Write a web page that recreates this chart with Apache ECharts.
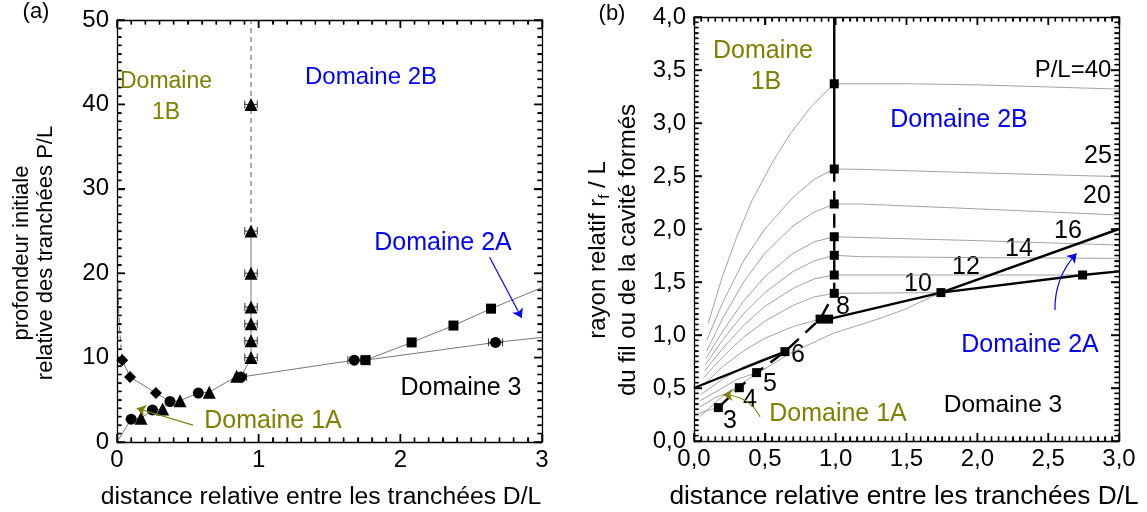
<!DOCTYPE html>
<html><head><meta charset="utf-8">
<script src="https://cdn.jsdelivr.net/npm/echarts@6/dist/echarts.min.js"></script>
<style>html,body{margin:0;padding:0;background:#fff}#c{width:1147px;height:512px}</style>
</head><body><div id="c"></div>
<script>
// ---------- Panel (a) data ----------
const aCircles   = [[0.10,2.7],[0.25,3.8],[0.374,4.8],[0.574,5.8],[0.875,7.7],[1.675,9.7],[2.672,11.8]];
const aTriangles = [[0.169,2.8],[0.322,3.9],[0.445,4.9],[0.651,5.9],[0.845,7.8],[0.946,10],[0.946,12],[0.946,14],[0.946,16],[0.946,20],[0.946,25],[0.946,40]];
const aSquares   = [[1.755,9.7],[2.08,11.8],[2.375,13.8],[2.64,15.8]];
const aDiamonds  = [[0.037,9.7],[0.092,7.7],[0.275,5.8]];
const aLowerLine = [[0,0],[0.10,2.7],[0.169,2.8],[0.25,3.8],[0.322,3.9],[0.374,4.8],[0.445,4.9],[0.574,5.8],[0.651,5.9],[0.845,7.8],[0.875,7.7],[1.675,9.7],[1.755,9.7],[2.672,11.8],[3.0,12.4]];
const aUpperLine = [[1.755,9.7],[2.08,11.8],[2.375,13.8],[2.64,15.8],[3.0,18.3]];
const aDiamondLine = [[0.037,9.7],[0.092,7.7],[0.275,5.8],[0.374,4.8]];
const aDiamondDash = [[0.004,19],[0.012,15.5],[0.022,12.5],[0.037,9.7]];
const aVertSolid = [[0.875,7.7],[0.946,10],[0.946,25]];
const aVertDash  = [[0.946,25],[0.946,50]];
const aErrBars   = [[0.946,10,0.044],[0.946,12,0.044],[0.946,14,0.044],[0.946,16,0.044],[0.946,20,0.044],[0.946,25,0.044],[0.946,40,0.044],[0.875,7.7,0.04],[1.675,9.7,0.045],[2.672,11.8,0.05]];
const aArrow2A = [[2.63,21.9],[2.857,14.7]];
const aArrow1A = [[0.536,2.0],[0.139,4.0]];

// ---------- Panel (b) data ----------
const bSquares = [[0.99,3.37],[0.99,2.566],[0.99,2.236],[0.99,1.927],[0.99,1.752],[0.99,1.566],[0.99,1.393],
                  [0.89,1.15],[0.95,1.15],[0.642,0.843],[0.442,0.645],[0.32,0.503],[0.172,0.315],[1.743,1.40],[2.743,1.566]];
const bCurve40 = [[0.10,1.11],[0.2,1.55],[0.3,1.92],[0.41,2.27],[0.55,2.62],[0.68,2.90],[0.83,3.16],[0.99,3.37],[1.5,3.37],[2.0,3.36],[2.5,3.34],[3.0,3.32]];
const bCurve25 = [[0.09,0.95],[0.2,1.3],[0.35,1.7],[0.5,2.0],[0.7,2.3],[0.85,2.47],[0.99,2.566],[1.17,2.563],[2.0,2.53],[3.0,2.494]];
const bCurve20 = [[0.09,0.85],[0.2,1.15],[0.35,1.5],[0.5,1.77],[0.7,2.03],[0.85,2.16],[0.99,2.236],[1.17,2.236],[2.0,2.19],[3.0,2.132]];
const bCurve16 = [[0.085,0.78],[0.2,1.03],[0.35,1.32],[0.5,1.55],[0.7,1.77],[0.85,1.88],[0.99,1.927],[1.17,1.92],[2.0,1.89],[3.0,1.849]];
const bCurve14 = [[0.08,0.72],[0.2,0.95],[0.35,1.2],[0.5,1.4],[0.7,1.6],[0.85,1.7],[0.99,1.752],[1.17,1.739],[2.0,1.73],[3.0,1.723]];
const bCurve12 = [[0.075,0.66],[0.2,0.87],[0.35,1.09],[0.5,1.27],[0.7,1.44],[0.85,1.53],[0.99,1.566],[2.743,1.566]];
const bCurve10 = [[0.07,0.60],[0.2,0.79],[0.35,0.98],[0.5,1.13],[0.7,1.28],[0.85,1.36],[0.99,1.393],[1.743,1.40]];
const bCurve8  = [[0.06,0.52],[0.2,0.70],[0.35,0.85],[0.5,0.97],[0.7,1.08],[0.89,1.15]];
const bCurve6  = [[0.05,0.44],[0.2,0.58],[0.35,0.70],[0.5,0.78],[0.642,0.843]];
const bCurve5  = [[0.045,0.38],[0.2,0.50],[0.3,0.58],[0.442,0.645]];
const bCurve4  = [[0.04,0.32],[0.15,0.41],[0.25,0.46],[0.32,0.503]];
const bCurve3  = [[0.035,0.26],[0.1,0.29],[0.172,0.315]];
const bCurveLow = [[0.042,0.23],[0.2,0.42],[0.372,0.575],[0.678,0.827],[0.983,1.016],[1.313,1.157],[1.477,1.236],[1.743,1.40]];
const bDashed  = [[0.172,0.315],[0.32,0.503],[0.442,0.645],[0.642,0.843],[0.89,1.15],[0.99,1.393],[0.99,2.566]];
const bVertSolid = [[0.99,2.566],[0.99,4.0]];
const bLineA = [[0,0.5],[0.642,0.843]];
const bLineB = [[0.95,1.15],[1.743,1.40],[3.0,2.0]];
const bLineC = [[1.743,1.40],[2.743,1.566],[3.0,1.6]];
const bArrow2A = [[2.548,1.236],[2.70,1.77]];
const bArrow1A = [[0.466,0.229],[0.207,0.434]];

// axis ranges / tick spacing
const aXTicks = {min:0, max:3, interval:1, minor:10};
const aYTicks = {min:0, max:50, interval:10, minor:10};
const bXTicks = {min:0, max:3, interval:0.5, minor:10};
const bYTicks = {min:0, max:4, interval:0.5, minor:10};

const FONT = 'Liberation Sans, Arial, sans-serif';
const OLIVE = '#808000', BLUE = '#0000ff';

function axis(kind, grid, t, pos, showLabel, fmt){
  return {
    type:'value', gridIndex:grid, min:t.min, max:t.max, interval:t.interval, position:pos,
    axisLine:{show:true, onZero:false, lineStyle:{color:'#000', width:1.3}},
    axisTick:{show:true, inside:true, length:8, lineStyle:{color:'#000', width:1.4}},
    minorTick:{show:true, splitNumber:t.minor, length:4.5, lineStyle:{color:'#000', width:1.2}},
    splitLine:{show:false},
    axisLabel:{show:showLabel, color:'#000', fontSize:24, fontFamily:FONT, margin: kind==='x'?6:8,
      formatter: fmt || null, showMinLabel:true, showMaxLabel:true}
  };
}
const comma = v => v.toFixed(1).replace('.', ',');

// frame tick items: [x, y, dirX, dirY, length] — one item per tick, inside the frame on all four sides
function tickItems(tx, ty, majLen, minLen){
  const items = [];
  const nx = Math.round((tx.max - tx.min) / tx.interval * tx.minor);
  for (let i = 0; i <= nx; i++) {
    const v = +(tx.min + i * (tx.max - tx.min) / nx).toFixed(6);
    const L = (i % tx.minor === 0) ? majLen : minLen;
    items.push([v, ty.min, 0, -1, L]);
    items.push([v, ty.max, 0, 1, L]);
  }
  const ny = Math.round((ty.max - ty.min) / ty.interval * ty.minor);
  for (let i = 0; i <= ny; i++) {
    const v = +(ty.min + i * (ty.max - ty.min) / ny).toFixed(6);
    const L = (i % ty.minor === 0) ? majLen : minLen;
    items.push([tx.min, v, 1, 0, L]);
    items.push([tx.max, v, -1, 0, L]);
  }
  return items;
}
function tickRender(params, api){
  const p = api.coord([api.value(0), api.value(1)]);
  const dx = api.value(2), dy = api.value(3), L = api.value(4);
  const x = p[0], y = p[1];
  return {type:'line', shape:{x1:x, y1:y, x2:x + dx*L, y2:y + dy*L}, style:{stroke:'#000', lineWidth:1.5}};
}

function errBar(params, api){
  const x = api.value(0), y = api.value(1), d = api.value(2);
  const p1 = api.coord([x-d, y]), p2 = api.coord([x+d, y]);
  const h = 4, st = {stroke:'#000', lineWidth:0.8};
  return {type:'group', children:[
    {type:'line', shape:{x1:p1[0],y1:p1[1],x2:p2[0],y2:p2[1]}, style:st},
    {type:'line', shape:{x1:p1[0],y1:p1[1]-h,x2:p1[0],y2:p1[1]+h}, style:st},
    {type:'line', shape:{x1:p2[0],y1:p2[1]-h,x2:p2[0],y2:p2[1]+h}, style:st}
  ]};
}

function line(xi, yi, data, opts){
  return Object.assign({type:'line', xAxisIndex:xi, yAxisIndex:yi, data:data, showSymbol:false, symbol:'none',
    smooth:false, silent:true, animation:false,
    lineStyle:{color:'#666', width:0.9}}, opts||{});
}
function scatter(xi, yi, data, sym, size){
  return {type:'scatter', xAxisIndex:xi, yAxisIndex:yi, data:data, symbol:sym, symbolSize:size,
    itemStyle:{color:'#000', opacity:1}, z:5, animation:false, silent:true};
}
function arrow(xi, yi, data, color, curv){
  return {type:'lines', coordinateSystem:'cartesian2d', xAxisIndex:xi, yAxisIndex:yi, polyline:false,
    data:[{coords:data}], symbol:['none','arrow'], symbolSize:9, silent:true, animation:false, z:6,
    lineStyle:{color:color, width:1.2, opacity:1, curveness:curv||0}};
}
function txt(x, y, text, color, size, extra){
  return Object.assign({type:'text', x:x, y:y, style:{text:text, fill:color||'#000', font:(size||24)+'px '+FONT,
    textAlign:'center', textVerticalAlign:'middle'}}, extra||{});
}

const grey = {lineStyle:{color:'#8a8a8a', width:0.8}};
const bCurves = [bCurve40,bCurve25,bCurve20,bCurve16,bCurve14,bCurve12,bCurve10,bCurve8,bCurve6,bCurve5,bCurve4,bCurve3,bCurveLow];

const series = [
  // frame ticks
  {type:'custom', xAxisIndex:0, yAxisIndex:0, renderItem:tickRender, data:tickItems(aXTicks,aYTicks,8,4.5), encode:{x:0,y:1}, z:8, silent:true, animation:false, clip:false},
  {type:'custom', xAxisIndex:2, yAxisIndex:2, renderItem:tickRender, data:tickItems(bXTicks,bYTicks,8,4.5), encode:{x:0,y:1}, z:8, silent:true, animation:false, clip:false},
  // panel a
  line(0,0,aLowerLine),
  line(0,0,aUpperLine),
  line(0,0,aDiamondLine),
  line(0,0,aDiamondDash,{lineStyle:{color:'#444', width:0.9, type:[5,4]}}),
  line(0,0,aVertSolid),
  line(0,0,aVertDash,{lineStyle:{color:'#444', width:0.9, type:[5,4]}}),
  {type:'custom', xAxisIndex:0, yAxisIndex:0, renderItem:errBar, data:aErrBars, encode:{x:0,y:1}, z:4, silent:true, animation:false},
  scatter(0,0,aCircles,'circle',11),
  scatter(0,0,aTriangles,'triangle',13),
  scatter(0,0,aSquares,'rect',10),
  scatter(0,0,aDiamonds,'diamond',12),
  arrow(0,0,aArrow2A,BLUE,0),
  arrow(0,0,aArrow1A,OLIVE,0),
  // panel b
  ...bCurves.map(c => line(2,2,c,grey)),
  line(2,2,bDashed,{lineStyle:{color:'#000', width:2.4, type:[14,9]}}),
  line(2,2,bVertSolid,{lineStyle:{color:'#000', width:2.4}}),
  line(2,2,bLineA,{lineStyle:{color:'#000', width:2.4}}),
  line(2,2,bLineB,{lineStyle:{color:'#000', width:2.4}}),
  line(2,2,bLineC,{lineStyle:{color:'#000', width:2.4}}),
  scatter(2,2,bSquares,'rect',9),
  arrow(2,2,bArrow2A,BLUE,0.2),
  arrow(2,2,bArrow1A,OLIVE,-0.3)
];

const labels = [
  txt(36,12,'(a)','#000',22),
  txt(612,14,'(b)','#000',22),
  txt(321,497,'distance relative entre les tranchées D/L','#000',24.7),
  txt(904,497,'distance relative entre les tranchées D/L','#000',26.3),
  {type:'text', x:34, y:253, rotation:Math.PI/2, style:{text:'profondeur initiale\nrelative des tranchées P/L', fill:'#000', font:'22px '+FONT, textAlign:'center', textVerticalAlign:'middle', lineHeight:24}},
  {type:'text', x:598, y:250, rotation:Math.PI/2, style:{text:'rayon relatif r{s|f} / L', fill:'#000', font:'24px '+FONT, textAlign:'center', textVerticalAlign:'middle', rich:{s:{fontSize:15, fontFamily:FONT, verticalAlign:'bottom', padding:[14,0,0,0]}}}},
  txt(628,250,'du fil ou de la cavité formés','#000',24,{rotation:Math.PI/2}),
  // panel a labels
  txt(166,82,'Domaine',OLIVE,23), txt(166,113,'1B',OLIVE,23),
  txt(371,77,'Domaine 2B',BLUE,24),
  txt(443,243,'Domaine 2A',BLUE,25),
  txt(461,388,'Domaine 3','#000',25),
  txt(273,421,'Domaine 1A',OLIVE,25),
  // panel b labels
  txt(763,51,'Domaine',OLIVE,25), txt(766,82,'1B',OLIVE,25),
  txt(959,120,'Domaine 2B',BLUE,25),
  txt(1073,70,'P/L=40','#000',24),
  txt(1098,156,'25','#000',25), txt(1097,196,'20','#000',25), txt(1068,231,'16','#000',25),
  txt(1019,249,'14','#000',25), txt(966,267,'12','#000',25), txt(918,284,'10','#000',25),
  txt(843,307,'8','#000',25), txt(798,355,'6','#000',25), txt(770,384,'5','#000',25),
  txt(750,400,'4','#000',25), txt(730,421,'3','#000',25),
  txt(1030,345,'Domaine 2A',BLUE,25),
  txt(838,414,'Domaine 1A',OLIVE,25),
  txt(1003,405,'Domaine 3','#000',24.5)
];

const option = {
  backgroundColor:'#fff',
  animation:false,
  grid:[
    {left:117, top:20, width:425, height:422},
    {left:694, top:17, width:425, height:424}
  ],
  xAxis:[
    axis('x',0,aXTicks,'bottom',true),
    axis('x',0,aXTicks,'top',false),
    axis('x',1,bXTicks,'bottom',true,comma),
    axis('x',1,bXTicks,'top',false)
  ],
  yAxis:[
    axis('y',0,aYTicks,'left',true),
    axis('y',0,aYTicks,'right',false),
    axis('y',1,bYTicks,'left',true,comma),
    axis('y',1,bYTicks,'right',false)
  ],
  series: series,
  graphic: labels
};
const chart = echarts.init(document.getElementById('c'), null, {renderer:'canvas'});
chart.setOption(option);
</script></body></html>
